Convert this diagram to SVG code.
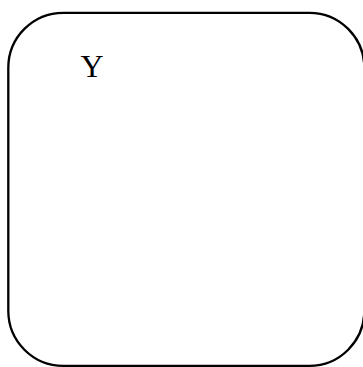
<svg xmlns="http://www.w3.org/2000/svg" width="363" height="367" viewBox="0 0 363 367">
<style>
.box{fill:#fff;stroke:#000;stroke-width:2.3}
.lbl{font-family:"Liberation Serif",serif;font-size:32px;fill:#000}
</style>
<rect width="363" height="367" fill="#fff"/>
<g id="nodeY">
<rect class="box" x="8.3" y="12.8" width="356" height="353" rx="55" ry="55"/>
<text class="lbl" x="80.5" y="76.8">Y</text>
</g>
<g id="connectors"/>
</svg>
